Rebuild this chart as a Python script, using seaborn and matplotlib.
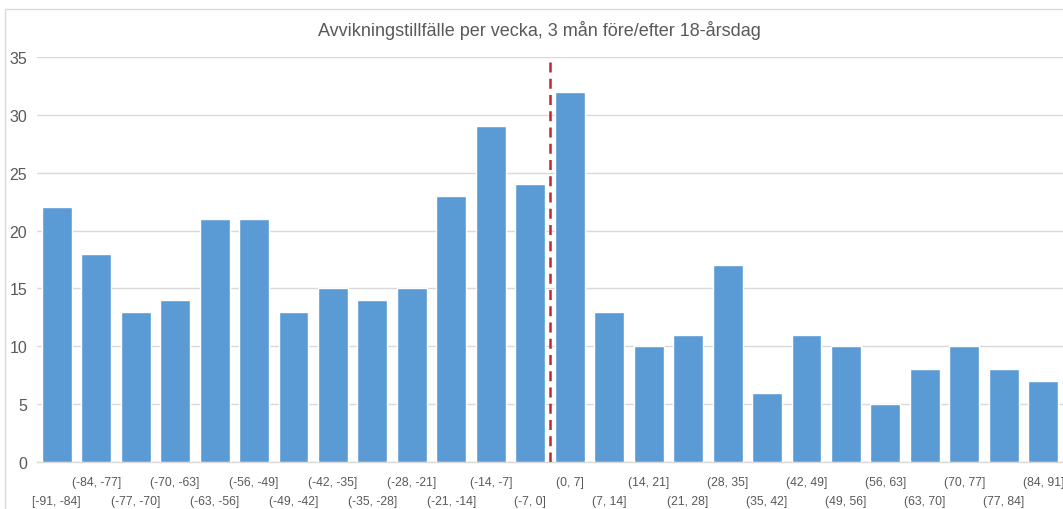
import matplotlib
matplotlib.use("Agg")
import matplotlib.pyplot as plt
import seaborn as sns
import pandas as pd
from matplotlib.patches import Rectangle

categories = ["[-91, -84]", "(-84, -77]", "(-77, -70]", "(-70, -63]", "(-63, -56]",
              "(-56, -49]", "(-49, -42]", "(-42, -35]", "(-35, -28]", "(-28, -21]",
              "(-21, -14]", "(-14, -7]", "(-7, 0]", "(0, 7]", "(7, 14]", "(14, 21]",
              "(21, 28]", "(28, 35]", "(35, 42]", "(42, 49]", "(49, 56]", "(56, 63]",
              "(63, 70]", "(70, 77]", "(77, 84]", "(84, 91]"]
values = [22, 18, 13, 14, 21, 21, 13, 15, 14, 15, 23, 29, 24,
          32, 13, 10, 11, 17, 6, 11, 10, 5, 8, 10, 8, 7]
title = "Avvikningstillfälle per vecka, 3 mån före/efter 18-årsdag"
yticks = [0, 5, 10, 15, 20, 25, 30, 35]

sns.set_theme(style="white")
plt.rcParams['font.family'] = ['Liberation Sans', 'DejaVu Sans']

df = pd.DataFrame({"cat": categories, "val": values})

fig = plt.figure(figsize=(10.63, 5.10), dpi=100)
ax = fig.add_axes([37/1063, 1 - 463/510, 1 - 37/1063, (463 - 58)/510])

# outer chart border
fig.patches.append(Rectangle((5/1063, -0.1), 1.2, 1 - 10/510 + 0.1, transform=fig.transFigure,
                             fill=False, edgecolor="#D9D9D9", linewidth=1, zorder=0))

sns.barplot(data=df, x="cat", y="val", order=categories, color="#5B9BD5",
            saturation=1, width=0.76, ax=ax, zorder=3)

ax.set_xlim(-0.5, len(categories) - 0.5)
ax.set_ylim(0, 35)
ax.set_yticks(yticks)
ax.set_yticklabels([str(t) for t in yticks], fontsize=11.5, color="#595959")
ax.yaxis.grid(True, color="#D9D9D9", linewidth=1, zorder=0)
ax.set_axisbelow(True)

upper_pos = [i for i in range(len(categories)) if i % 2 == 1]
lower_pos = [i for i in range(len(categories)) if i % 2 == 0]
ax.set_xticks(upper_pos)
ax.set_xticklabels([categories[i] for i in upper_pos], fontsize=8.8, color="#595959")
ax.set_xticks(lower_pos, minor=True)
ax.set_xticklabels([categories[i] for i in lower_pos], minor=True, fontsize=8.8, color="#595959")
ax.tick_params(axis="x", which="major", length=0, pad=10)
ax.tick_params(axis="x", which="minor", length=0, pad=24)
ax.tick_params(axis="y", length=0, pad=7)

for s in ["top", "right", "left"]:
    ax.spines[s].set_visible(False)
ax.spines["bottom"].set_color("#D9D9D9")
ax.spines["bottom"].set_linewidth(1)

ax.axvline(12.5, color="#C0272D", linestyle=(0, (4, 2.5)), linewidth=1.8, zorder=4)

ax.set_xlabel("")
ax.set_ylabel("")
fig.text(539/1063, 1 - 30/510, title, ha="center", va="center", fontsize=13, color="#595959")

fig.savefig("out.png", dpi=100)
